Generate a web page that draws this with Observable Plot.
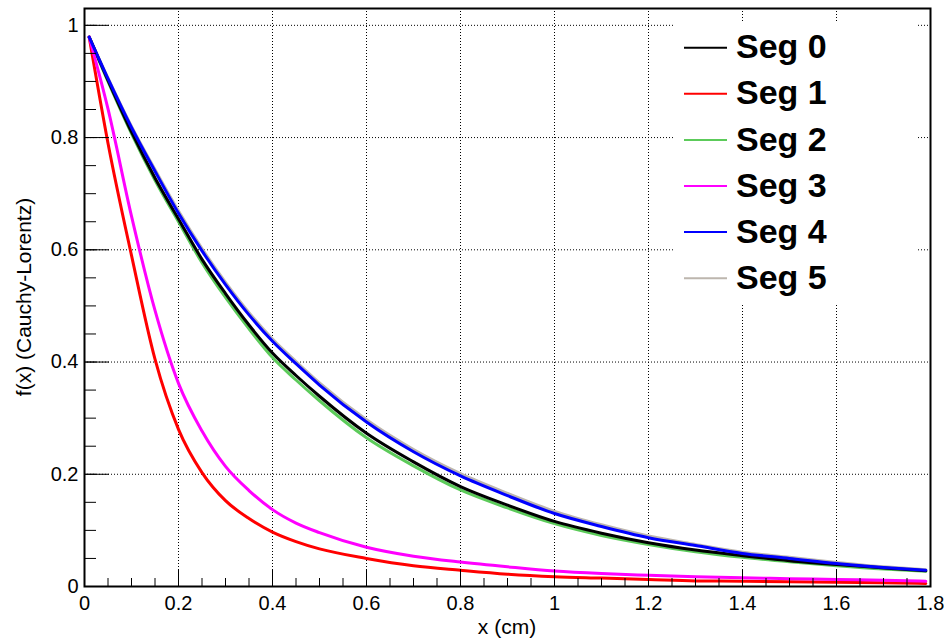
<!DOCTYPE html>
<html><head><meta charset="utf-8">
<script src="https://cdn.jsdelivr.net/npm/d3@7"></script>
<script src="https://cdn.jsdelivr.net/npm/@observablehq/plot@0.6"></script>
<style>
body{margin:0;background:#fff}
#chart{position:relative;width:944px;height:639px}
</style>
</head><body><div id="chart"></div>
<script>
const FONT = "'Liberation Sans', Arial, Helvetica, sans-serif";

// sample positions (cm)
const xs = [0.01, 0.05, 0.1, 0.15, 0.2, 0.25, 0.3, 0.35, 0.4, 0.45, 0.5, 0.6, 0.7, 0.8, 0.9, 1.0, 1.1, 1.2, 1.3, 1.4, 1.5, 1.6, 1.7, 1.79];

const seg0 = [0.979, 0.902, 0.810, 0.728, 0.655, 0.583, 0.522, 0.466, 0.416, 0.376, 0.339, 0.273, 0.222, 0.178, 0.145, 0.116, 0.095, 0.078, 0.065, 0.055, 0.046, 0.039, 0.033, 0.028];
const seg1 = [0.979, 0.790, 0.590, 0.405, 0.280, 0.203, 0.153, 0.121, 0.097, 0.080, 0.067, 0.050, 0.037, 0.029, 0.022, 0.0175, 0.015, 0.0125, 0.010, 0.0095, 0.0085, 0.0075, 0.0065, 0.0055];
const seg2 = [0.979, 0.900, 0.807, 0.724, 0.650, 0.577, 0.515, 0.459, 0.408, 0.368, 0.331, 0.265, 0.215, 0.172, 0.140, 0.112, 0.091, 0.075, 0.062, 0.052, 0.044, 0.037, 0.031, 0.027];
const seg3 = [0.979, 0.851, 0.660, 0.492, 0.362, 0.277, 0.214, 0.171, 0.137, 0.113, 0.096, 0.070, 0.054, 0.0435, 0.035, 0.0275, 0.023, 0.020, 0.0175, 0.0155, 0.014, 0.0125, 0.011, 0.0095];
const seg4 = [0.979, 0.905, 0.818, 0.740, 0.665, 0.598, 0.538, 0.484, 0.437, 0.397, 0.359, 0.293, 0.240, 0.197, 0.162, 0.130, 0.107, 0.087, 0.073, 0.059, 0.050, 0.041, 0.034, 0.029];
const seg5 = [0.979, 0.906, 0.820, 0.743, 0.669, 0.602, 0.542, 0.488, 0.441, 0.401, 0.363, 0.297, 0.244, 0.201, 0.166, 0.134, 0.110, 0.090, 0.075, 0.061, 0.052, 0.043, 0.035, 0.030];

const seriesNames  = ["Seg 0", "Seg 1", "Seg 2", "Seg 3", "Seg 4", "Seg 5"];
const seriesValues = [seg0, seg1, seg2, seg3, seg4, seg5];
const seriesColors = ["#000000", "#ff0000", "#5ccb5a", "#ff00ff", "#0000ff", "#bdb6ae"];
const drawOrder    = [5, 2, 0, 1, 3, 4];

const xTicksMajor = [0, 0.2, 0.4, 0.6, 0.8, 1.0, 1.2, 1.4, 1.6, 1.8];
const xTickLabels = ["0", "0.2", "0.4", "0.6", "0.8", "1", "1.2", "1.4", "1.6", "1.8"];
const yTicksMajor = [0, 0.2, 0.4, 0.6, 0.8, 1.0];
const yTickLabels = ["0", "0.2", "0.4", "0.6", "0.8", "1"];
const xTicksMinor = d3.range(0, 37).map(i => +(i * 0.05).toFixed(2));
const yTicksMinor = d3.range(0, 21).map(i => +(i * 0.05).toFixed(2));

const xTitle = "x (cm)";
const yTitle = "f(x) (Cauchy-Lorentz)";

const rows = seriesNames.map((name, k) => xs.map((x, i) => ({x, y: seriesValues[k][i], s: name})));

const gridStyle = {stroke: "black", strokeOpacity: 1, strokeWidth: 1, strokeDasharray: "1,2"};

const plot = Plot.plot({
  width: 944, height: 639,
  marginLeft: 84, marginRight: 14, marginTop: 8, marginBottom: 53,
  x: {domain: [0, 1.8], label: null},
  y: {domain: [0, 1.03], label: null},
  style: {fontFamily: FONT, background: "white", color: "black"},
  marks: [
    Plot.gridX(xTicksMajor.slice(1), gridStyle),
    Plot.gridY(yTicksMajor.slice(1), gridStyle),
    ...drawOrder.map(k => Plot.line(rows[k], {x: "x", y: "y", stroke: seriesColors[k], strokeWidth: 3, curve: "monotone-x"})),
    Plot.axisX(xTicksMinor, {tickSize: -8, text: null, label: null, strokeWidth: 1, strokeOpacity: 1}),
    Plot.axisX(xTicksMajor, {tickSize: -17, text: null, label: null, strokeWidth: 1, strokeOpacity: 1}),
    Plot.axisX(xTicksMajor, {tickSize: 0, tickPadding: 9, fontSize: 20, label: null,
      tickFormat: d => xTickLabels[xTicksMajor.indexOf(d)]}),
    Plot.axisY(yTicksMinor, {tickSize: -12, text: null, label: null, strokeWidth: 1, strokeOpacity: 1}),
    Plot.axisY(yTicksMajor, {tickSize: -25, text: null, label: null, strokeWidth: 1, strokeOpacity: 1}),
    Plot.axisY(yTicksMajor, {tickSize: 0, tickPadding: 6, fontSize: 20, label: null,
      tickFormat: d => yTickLabels[yTicksMajor.indexOf(d)]}),
    Plot.frame({stroke: "black", strokeWidth: 2})
  ]
});

document.getElementById("chart").appendChild(plot);

const svg = d3.select(plot);
// legend box
const lg = svg.append("g").attr("font-family", FONT).attr("text-anchor", "start");
lg.append("rect").attr("x", 673).attr("y", 21).attr("width", 245).attr("height", 282).attr("fill", "white");
seriesNames.forEach((name, i) => {
  const cy = 47.7 + 46.1 * i;
  lg.append("line").attr("x1", 684).attr("x2", 727).attr("y1", cy).attr("y2", cy)
    .attr("stroke", seriesColors[i]).attr("stroke-width", 2);
  lg.append("text").attr("x", 736).attr("y", cy + 10.6).attr("font-size", 34).attr("font-weight", "bold")
    .attr("text-anchor", "start").attr("fill", "black").text(name);
});
// axis titles
svg.append("text").attr("x", 507).attr("y", 634).attr("text-anchor", "middle")
  .attr("font-family", FONT).attr("font-size", 21).attr("fill", "black").text(xTitle);
svg.append("text").attr("transform", "translate(31,297) rotate(-90)").attr("text-anchor", "middle")
  .attr("font-family", FONT).attr("font-size", 21).attr("fill", "black").text(yTitle);
</script>
</body></html>
